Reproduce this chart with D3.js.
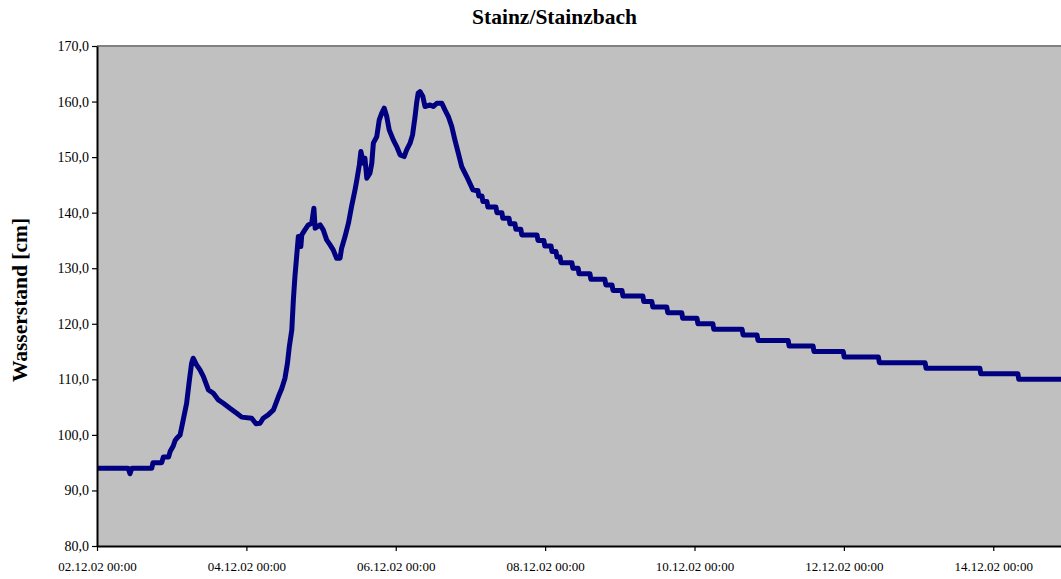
<!DOCTYPE html>
<html>
<head>
<meta charset="utf-8">
<script src="https://cdn.jsdelivr.net/npm/d3@7"></script>
<style>
  html, body { margin: 0; padding: 0; background: #fff; overflow: hidden; }
  svg { display: block; }
</style>
</head>
<body>
<svg id="chart" width="1061" height="579"></svg>
<script>
// ---- data ----
const chartTitle = "Stainz/Stainzbach";
const yAxisTitle = "Wasserstand [cm]";
const startDate = new Date(2002, 11, 2, 0, 0);
const endDate = new Date(2002, 11, 16, 0, 0);
const yTicks = [80, 90, 100, 110, 120, 130, 140, 150, 160, 170];
const xTickDays = [0, 2, 4, 6, 8, 10, 12];

// flood wave: [hours since 02.12.02 00:00, water level cm]
const floodReadings = [
  [0,94],[10.0,94],[10.6,93],[11.2,94],[17.6,94],[18.0,95],[20.8,95],[21.3,96],[23.0,96],
  [23.5,97],[24.5,98],[25.1,99],[25.8,99.5],[26.7,100],[27.7,102.7],[28.8,105.7],[29.7,109.9],
  [30.4,112.9],[30.9,113.8],[32.0,112.6],[33.1,111.7],[34.2,110.5],[35.8,108.1],[37.4,107.5],
  [39.0,106.3],[40.6,105.7],[42.7,104.8],[44.9,103.9],[46.5,103.2],[49.7,103],[51.1,102],
  [52.4,102.1],[53.4,103],[55.0,103.6],[56.7,104.5],[58.3,106.9],[59.4,108.4],[60.4,110.2],
  [61.2,112.9],[61.8,115.9],[62.6,118.9],[63.1,124.3],[63.6,128.5],[64.7,135.7],[65.5,133.9],
  [65.8,136],[66.8,136.9],[67.9,137.8],[69.0,138.1],[69.7,140.8],[70.1,137.2],[71.7,137.8],
  [72.7,136.9],[73.8,135.1],[74.9,134.2],[75.9,133.3],[77.0,131.8],[78.1,131.8],[78.6,133.6],
  [79.7,135.7],[80.8,138.1],[81.8,141.1],[82.9,144.1],[83.5,145.9],[84.3,148.6],[84.8,151],
  [85.6,148.9],[86.1,149.8],[86.7,146.2],[87.7,147.1],[88.3,148.9],[88.8,152.5],[89.9,153.7],
  [90.7,156.7],[91.5,157.9],[92.3,158.8],[93.1,157.3],[93.9,154.9],[95.2,153.1],[96.3,151.9],
  [97.4,150.4],[98.7,150.1],[99.5,151.3],[100.6,152.5],[101.4,154],[102.2,157.3],[102.7,159.7],
  [103.2,161.5],[103.8,161.8],[104.7,160.9],[105.4,159.1],[107.0,159.4],[108.1,159.1],
  [109.2,159.7],[110.8,159.7],[111.8,158.5],[112.9,157.3],[114.0,155.5],[115.0,153.1],
  [116.1,150.7],[117.2,148.3],[118.8,146.5],[120.8,144.1]
];

// recession steps: hour at which the level changes, and the new level
const stepHours  = [122.4,123.7,125.3,128.2,130.1,132.4,134.3,136.2,141.4,143.6,145.9,147.5,148.8,152.6,154.6,158.4,163.2,165.5,168.7,175.4,178.3,183.1,187.9,192.8,197.9,207.3,212.1,222.1,230.1,239.8,251.1,266.1,283.7,295.9];
const stepLevels = [143,  142,  141,  140,  139,  138,  137,  136,  135,  134,  133,  132,  131,  130,  129,  128,  127,  126,  125,  124,  123,  122,  121,  120,  119,  118,  117,  116,  115,  114,  113,  112,  111,  110];
const lastHour = 336;

// ---- build series ----
const hourMs = 3600 * 1000;
const toDate = h => new Date(startDate.getTime() + h * hourMs);
const series = floodReadings.map(([h, v]) => ({ t: toDate(h), v }));
let prevLevel = 144;
series.push({ t: toDate(121.5), v: prevLevel });
stepHours.forEach((h, i) => {
  series.push({ t: toDate(h), v: prevLevel });
  series.push({ t: toDate(h + 0.3), v: stepLevels[i] });
  prevLevel = stepLevels[i];
});
series.push({ t: toDate(lastHour), v: prevLevel });

// ---- layout ----
const svg = d3.select("#chart");
const plotLeft = 97, plotTop = 46, plotBottom = 546;
const x = d3.scaleTime().domain([startDate, endDate]).range([plotLeft, plotLeft + 336 * 3.112]);
const y = d3.scaleLinear().domain([80, 170]).range([plotBottom, plotTop]);
const plotRight = x(endDate);

svg.append("rect")
  .attr("x", plotLeft).attr("y", plotTop)
  .attr("width", plotRight - plotLeft).attr("height", plotBottom - plotTop)
  .attr("fill", "#c0c0c0");

// top border
svg.append("line")
  .attr("x1", plotLeft).attr("x2", plotRight)
  .attr("y1", plotTop).attr("y2", plotTop)
  .attr("stroke", "#808080").attr("stroke-width", 2);

// clip
svg.append("clipPath").attr("id", "plotclip")
  .append("rect").attr("x", plotLeft).attr("y", plotTop - 5)
  .attr("width", plotRight - plotLeft).attr("height", plotBottom - plotTop + 5);

svg.append("path")
  .datum(series)
  .attr("clip-path", "url(#plotclip)")
  .attr("fill", "none")
  .attr("stroke", "#000080")
  .attr("stroke-width", 5)
  .attr("stroke-linejoin", "round")
  .attr("stroke-linecap", "round")
  .attr("d", d3.line().x(d => x(d.t)).y(d => y(d.v)).curve(d3.curveLinear));

// axes
const locale = d3.formatLocale({ decimal: ",", thousands: ".", grouping: [3], currency: ["", "€"] });
const yFmt = locale.format(".1f");
const xFmt = d3.timeFormat("%d.%m.%y %H:%M");

const yAxis = svg.append("g")
  .attr("transform", `translate(${plotLeft},0)`)
  .call(d3.axisLeft(y).tickValues(yTicks).tickFormat(yFmt).tickSize(5).tickPadding(3).tickSizeOuter(0));
yAxis.select(".domain").attr("stroke", "#000").attr("stroke-width", 2);
yAxis.selectAll(".tick line").attr("stroke", "#000").attr("stroke-width", 1.2);
yAxis.selectAll(".tick text")
  .attr("font-family", "'Liberation Serif', 'Times New Roman', serif")
  .attr("font-size", 14).attr("fill", "#000");

const xTicks = xTickDays.map(d => d3.timeDay.offset(startDate, d));
const xAxis = svg.append("g")
  .attr("transform", `translate(0,${plotBottom})`)
  .call(d3.axisBottom(x).tickValues(xTicks).tickFormat(xFmt).tickSize(5).tickPadding(11).tickSizeOuter(0));
xAxis.select(".domain").attr("stroke", "#000").attr("stroke-width", 2);
xAxis.selectAll(".tick line").attr("stroke", "#000").attr("stroke-width", 1.2);
xAxis.selectAll(".tick text")
  .attr("font-family", "'Liberation Serif', 'Times New Roman', serif")
  .attr("font-size", 13).attr("fill", "#000");

// titles
svg.append("text")
  .attr("x", 554.5).attr("y", 24)
  .attr("text-anchor", "middle")
  .attr("font-family", "'Liberation Serif', 'Times New Roman', serif")
  .attr("font-weight", "bold").attr("font-size", 21.5)
  .text(chartTitle);

svg.append("text")
  .attr("transform", "translate(27,300) rotate(-90)")
  .attr("text-anchor", "middle")
  .attr("font-family", "'Liberation Serif', 'Times New Roman', serif")
  .attr("font-weight", "bold").attr("font-size", 21.5)
  .text(yAxisTitle);
</script>
</body>
</html>
